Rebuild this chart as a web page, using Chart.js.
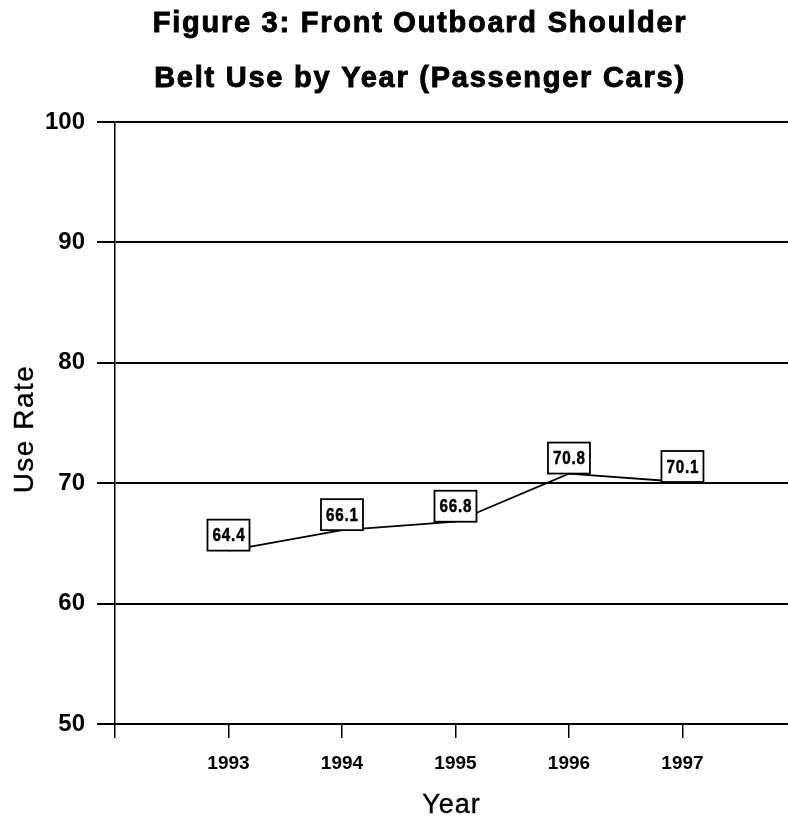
<!DOCTYPE html>
<html>
<head>
<meta charset="utf-8">
<script src="https://cdn.jsdelivr.net/npm/chart.js@4"></script>
<style>
  html, body { margin: 0; padding: 0; background: #fff; }
  #wrap { width: 788px; height: 821px; }
</style>
</head>
<body>
<div id="wrap"><canvas id="chart"></canvas></div>
<script>
const titleLines = ["Figure 3: Front Outboard Shoulder", "Belt Use by Year (Passenger Cars)"];
const years = [1993, 1994, 1995, 1996, 1997];
const useRate = [64.4, 66.1, 66.8, 70.8, 70.1];
const yTicks = [50, 60, 70, 80, 90, 100];

// title, axis titles and the boxed value labels
const decorations = {
    id: "decorations",
    afterDatasetsDraw(chart) {
        const ctx = chart.ctx;
        const area = chart.chartArea;
        ctx.save();
        ctx.fillStyle = "#000";
        ctx.strokeStyle = "#000";
        ctx.textAlign = "center";
        ctx.textBaseline = "alphabetic";

        // heavy title: fill plus a thin stroke to thicken it
        ctx.font = "bold 29px 'Liberation Sans', Arial, sans-serif";
        ctx.letterSpacing = "1.75px";
        ctx.lineWidth = 0.9;
        ctx.fillText(titleLines[0], 420, 32);
        ctx.strokeText(titleLines[0], 420, 32);
        ctx.fillText(titleLines[1], 420, 87);
        ctx.strokeText(titleLines[1], 420, 87);

        ctx.font = "27px 'Liberation Sans', Arial, sans-serif";
        ctx.letterSpacing = "1px";
        ctx.lineWidth = 0.4;
        ctx.fillText("Year", (area.left + area.right) / 2, 813);
        ctx.strokeText("Year", (area.left + area.right) / 2, 813);
        ctx.save();
        ctx.translate(33, 429);
        ctx.rotate(-Math.PI / 2);
        ctx.font = "28px 'Liberation Sans', Arial, sans-serif";
        ctx.letterSpacing = "1.5px";
        ctx.fillText("Use Rate", 0, 0);
        ctx.strokeText("Use Rate", 0, 0);
        ctx.restore();

        // value boxes sit on top of each point
        const meta = chart.getDatasetMeta(0);
        ctx.font = "bold 19px 'Liberation Sans', Arial, sans-serif";
        ctx.letterSpacing = "1px";
        ctx.textBaseline = "middle";
        meta.data.forEach((pt, i) => {
            const w = 42, h = 31;
            const x = pt.x - w / 2, y = pt.y - h;
            ctx.lineWidth = 1.8;
            ctx.fillStyle = "#fff";
            ctx.fillRect(x, y, w, h);
            ctx.strokeRect(x, y, w, h);
            ctx.fillStyle = "#000";
            ctx.save();
            ctx.translate(pt.x + 0.5, pt.y - h / 2 + 1);
            ctx.scale(0.8, 1);
            ctx.lineWidth = 0.5;
            ctx.fillText(useRate[i].toFixed(1), 0, 0);
            ctx.strokeText(useRate[i].toFixed(1), 0, 0);
            ctx.restore();
        });
        ctx.restore();
    }
};

new Chart(document.getElementById("chart"), {
    type: "line",
    data: {
        datasets: [{
            label: "Use Rate",
            data: years.map((yr, i) => ({ x: yr, y: useRate[i] })),
            borderColor: "#000",
            borderWidth: 1.8,
            pointRadius: 0,
            tension: 0,
            fill: false
        }]
    },
    options: {
        responsive: true,
        maintainAspectRatio: false,
        animation: false,
        layout: { padding: { top: 122, left: 0, right: 0, bottom: 0 } },
        plugins: {
            legend: { display: false },
            tooltip: { enabled: false }
        },
        scales: {
            x: {
                type: "linear",
                min: years[0] - 1,
                max: years[years.length - 1] + 0.93,
                afterFit: (scale) => { scale.height = 97; },
                grid: { drawOnChartArea: false, drawTicks: true, tickLength: 14, color: "#000", lineWidth: 1.5 },
                border: { display: true, color: "#000", width: 2 },
                ticks: {
                    stepSize: 1,
                    includeBounds: false,
                    autoSkip: false,
                    maxRotation: 0,
                    padding: 14,
                    color: "#000",
                    font: { family: "'Liberation Sans', Arial, sans-serif", size: 19, weight: "bold" },
                    callback: (v) => years.includes(v) ? String(v) : ""
                }
            },
            y: {
                min: yTicks[0],
                max: yTicks[yTicks.length - 1],
                afterFit: (scale) => { scale.width = 115; },
                afterBuildTicks: (scale) => { scale.ticks = yTicks.map(v => ({ value: v })); },
                grid: { color: "#000", lineWidth: 2, tickLength: 18 },
                border: { display: true, color: "#000", width: 1.5 },
                ticks: {
                    padding: 12,
                    color: "#000",
                    font: { family: "'Liberation Sans', Arial, sans-serif", size: 24, weight: "bold" }
                }
            }
        }
    },
    plugins: [decorations]
});
</script>
</body>
</html>
